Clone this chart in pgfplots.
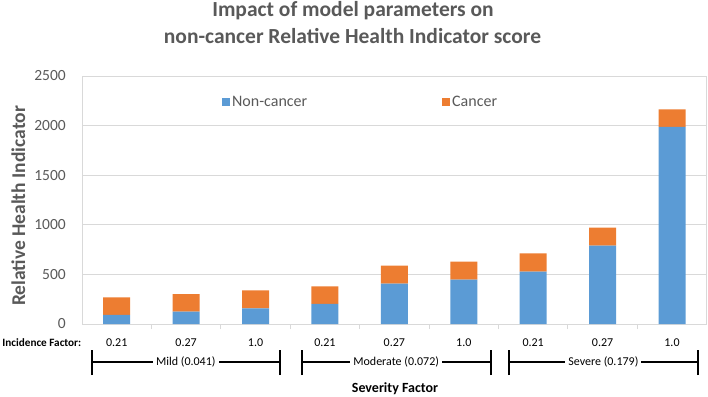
\documentclass[border=0pt]{standalone}
\usepackage{pgfplots}
\pgfplotsset{compat=1.18}
\usepackage{fontspec}
\setmainfont{Carlito}
\definecolor{ncblue}{HTML}{5B9BD5}
\definecolor{corange}{HTML}{ED7D31}
\definecolor{gridgray}{HTML}{D9D9D9}
\definecolor{txtgray}{HTML}{595959}
\begin{document}
\begin{tikzpicture}
\useasboundingbox (0,0) rectangle (708pt,396pt);
\begin{axis}[
  at={(82pt,72pt)}, anchor=south west,
  scale only axis, width=624.7pt, height=248pt,
  ybar stacked, bar width=27pt,
  xmin=-0.5, xmax=8.5, ymin=0, ymax=2500,
  xtick={0,...,8},
  xticklabels={0.21,0.27,1.0,0.21,0.27,1.0,0.21,0.27,1.0},
  ytick={0,500,...,2500},
  /pgf/number format/assume math mode=true,
  /pgf/number format/1000 sep={},
  ymajorgrids, grid style={gridgray, line width=0.8pt},
  axis line style={gridgray, line width=0.8pt},
  tick align=outside, tick pos=left,
  major tick length=0pt,
  extra x ticks={0.5,1.5,...,7.5}, extra x tick labels={},
  extra x tick style={grid=none, major tick length=5pt, tick style={gridgray, line width=0.8pt}},
  xticklabel style={font=\fontsize{12}{14}\selectfont, text=black, anchor=base, inner sep=0pt, yshift=-22pt},
  yticklabel style={font=\fontsize{15.5}{18}\selectfont, text=txtgray, anchor=east, inner sep=0pt, xshift=-16pt},
  legend columns=2,
  legend style={at={(rel axis cs:0.224,0.895)}, anchor=west, draw=none, fill=none, inner sep=0pt,
    font=\fontsize{16}{18}\selectfont, text=txtgray,
    /tikz/every even column/.append style={column sep=133pt}},
  legend image code/.code={\fill[#1] (0pt,-4pt) rectangle (8pt,4pt);},
  clip=false,
]
\addplot[fill=ncblue, draw=none] coordinates {(0,91) (1,124) (2,158) (3,202) (4,406) (5,447) (6,527) (7,789) (8,1986)};
\addplot[fill=corange, draw=none] coordinates {(0,178) (1,176) (2,182) (3,178) (4,182) (5,181) (6,185) (7,182) (8,178)};
\legend{Non-cancer, Cancer}
\end{axis}
\node[anchor=base, font=\bfseries\fontsize{21.5}{26}\selectfont, text=txtgray] at (353pt,379.3pt) {Impact of model parameters on};
\node[anchor=base, font=\bfseries\fontsize{21.5}{26}\selectfont, text=txtgray] at (352.5pt,352.7pt) {non-cancer Relative Health Indicator score};
\node[rotate=90, anchor=base, font=\bfseries\fontsize{19.5}{22}\selectfont, text=txtgray] at (25pt,190pt) {Relative Health Indicator};
\node[anchor=base east, inner sep=0pt, font=\bfseries\fontsize{11.2}{13}\selectfont] at (81.5pt,50pt) {Incidence Factor:};
\foreach \a/\b/\lab in {91.7/280/{Mild (0.041)}, 301.7/490.7/{Moderate (0.072)}, 509/697.7/{Severe (0.179)}}{
  \draw[line width=1.8pt] (\a pt,34pt) -- (\b pt,34pt);
  \draw[line width=1.8pt] (\a pt,21pt) -- (\a pt,46pt);
  \draw[line width=1.8pt] (\b pt,21pt) -- (\b pt,46pt);
  \pgfmathsetmacro{\m}{(\a+\b)/2}
  \node[fill=white, inner sep=3pt, font=\fontsize{12}{14}\selectfont] at (\m pt,34pt) {\lab};
}
\node[anchor=base, font=\bfseries\fontsize{14}{16}\selectfont] at (395pt,4pt) {Severity Factor};
\end{tikzpicture}
\end{document}
